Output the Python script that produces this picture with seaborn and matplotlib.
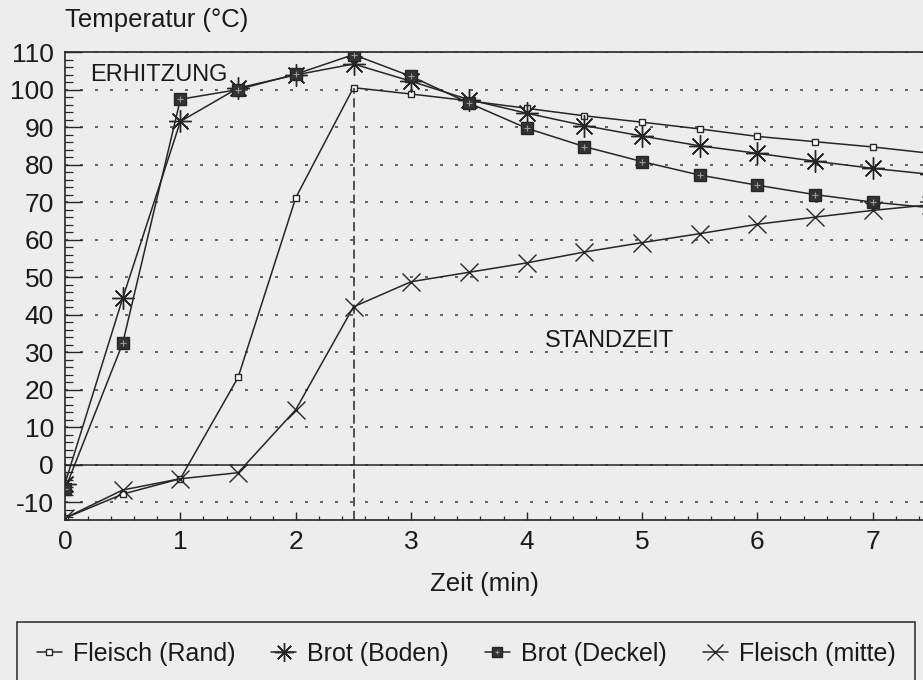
import matplotlib
matplotlib.use("Agg")
import matplotlib.pyplot as plt
from matplotlib.ticker import MultipleLocator
from matplotlib.legend_handler import HandlerTuple
import seaborn as sns
import pandas as pd

# ---- data ----
zeit = [0, 0.5, 1, 1.5, 2, 2.5, 3, 3.5, 4, 4.5, 5, 5.5, 6, 6.5, 7, 7.5]
fleisch_rand = [-14.2, -7.8, -3.7, 23.3, 71.2, 100.5, 98.8, 97.0, 95.0, 93.0,
                91.3, 89.5, 87.5, 86.1, 84.7, 83.0]
brot_boden = [-5.0, 44.4, 91.5, 100.4, 103.9, 106.8, 102.2, 97.3, 93.7, 90.4,
              87.6, 85.0, 83.0, 80.9, 79.0, 77.4]
brot_deckel = [-6.5, 32.4, 97.4, 100.0, 104.1, 109.3, 103.5, 96.4, 89.7, 84.8,
               80.8, 77.2, 74.5, 72.0, 70.0, 68.5]
fleisch_mitte = [-14.2, -6.7, -3.7, -2.1, 14.7, 42.1, 48.8, 51.3, 53.8, 56.7,
                 59.2, 61.6, 64.1, 66.0, 67.8, 69.3]
series_names = ["Fleisch (Rand)", "Brot (Boden)", "Brot (Deckel)", "Fleisch (mitte)"]
y_ticks = list(range(-10, 111, 10))
x_ticks = list(range(0, 8))
split_time = 2.5
phase_labels = ["ERHITZUNG", "STANDZEIT"]

df = pd.DataFrame({
    "Zeit": zeit * 4,
    "Temperatur": fleisch_rand + brot_boden + brot_deckel + fleisch_mitte,
    "Serie": sum([[n] * len(zeit) for n in series_names], []),
})

# ---- style ----
sns.set_theme(style="white")
plt.rcParams["font.family"] = ["Liberation Sans", "DejaVu Sans"]
plt.rcParams["axes.unicode_minus"] = False
BG = "#ededed"
INK = "#262626"

fig = plt.figure(figsize=(9.23, 6.80), dpi=100, facecolor=BG)
ax = fig.add_axes([65 / 923, 160 / 680, 858 / 923, 468 / 680], facecolor=BG)

lw = 1.1
styles = {
    "Fleisch (Rand)": dict(marker="s", markersize=4.5, markerfacecolor="white",
                           markeredgecolor=INK, markeredgewidth=1.0),
    "Brot (Boden)": dict(marker=(8, 2, 0), markersize=16, markerfacecolor=INK,
                         markeredgecolor=INK, markeredgewidth=1.0),
    "Brot (Deckel)": dict(marker="s", markersize=8.5, markerfacecolor="#333333",
                          markeredgecolor=INK, markeredgewidth=1.0),
    "Fleisch (mitte)": dict(marker="x", markersize=13, markerfacecolor=INK,
                            markeredgecolor=INK, markeredgewidth=1.0),
}

handles = {}
for name in series_names:
    sub = df[df["Serie"] == name]
    sns.lineplot(data=sub, x="Zeit", y="Temperatur", ax=ax, color=INK,
                 linewidth=lw, label=name, legend=False, **styles[name])
    handles[name] = ax.lines[-1]

# small light cross inside the dark Deckel squares
sub = df[df["Serie"] == "Brot (Deckel)"]
sns.lineplot(data=sub, x="Zeit", y="Temperatur", ax=ax, color="#9a9a9a",
             linestyle="none", marker="+", markersize=4, markeredgewidth=0.8,
             markeredgecolor="#9a9a9a", legend=False)
deckel_cross = ax.lines[-1]

# ---- axes ----
ax.set_xlim(0, 858 / 115.4)
ax.set_ylim(-14.7, 110)
ax.set_xticks(x_ticks)
ax.set_yticks(y_ticks)
ax.xaxis.set_minor_locator(MultipleLocator(0.2))
ax.yaxis.set_minor_locator(MultipleLocator(2))
ax.tick_params(axis="y", which="major", direction="in", length=12, width=1.0,
               color=INK, labelsize=19, pad=8, labelcolor="#1a1a1a", left=True)
ax.tick_params(axis="y", which="minor", direction="in", length=6, width=0.9,
               color=INK, left=True)
ax.tick_params(axis="x", which="major", direction="in", length=6, width=1.0,
               color=INK, labelsize=19, pad=7, labelcolor="#1a1a1a", bottom=True)
ax.tick_params(axis="x", which="minor", direction="in", length=3, width=0.9,
               color=INK, bottom=True)
ax.set_xlabel("")
ax.set_ylabel("")

for s in ["left", "bottom", "top"]:
    ax.spines[s].set_visible(True)
    ax.spines[s].set_color(INK)
    ax.spines[s].set_linewidth(1.2)
ax.spines["right"].set_visible(False)

ax.yaxis.grid(True, which="major", color="#4a4a4a", linewidth=1.2,
              linestyle=(0, (1.8, 7.2)))
ax.xaxis.grid(False)
ax.set_axisbelow(True)
ax.axhline(0, color=INK, linewidth=1.1)

ax.vlines(split_time, -14.7, fleisch_rand[zeit.index(split_time)], colors=INK,
          linewidth=1.1, linestyles=(0, (6, 3)))

ax.text(0.22, 103.8, phase_labels[0], fontsize=17, color="#1a1a1a",
        ha="left", va="center")
ax.text(4.16, 32.9, phase_labels[1], fontsize=17, color="#1a1a1a",
        ha="left", va="center")

fig.text(65 / 923, 1 - 20 / 680, "Temperatur (°C)", fontsize=18.5,
         color="#1a1a1a", ha="left", va="center")
fig.text(484 / 923, 1 - 584 / 680, "Zeit (min)", fontsize=18.5,
         color="#1a1a1a", ha="center", va="center")

leg_handles = [handles["Fleisch (Rand)"], handles["Brot (Boden)"],
               (handles["Brot (Deckel)"], deckel_cross), handles["Fleisch (mitte)"]]
leg = fig.legend(leg_handles, series_names, loc="upper left",
                 bbox_to_anchor=(17 / 923, 0, 898 / 923, 1 - 622 / 680),
                 mode="expand", ncol=4, fontsize=18, frameon=True, fancybox=False,
                 edgecolor=INK, facecolor=BG, framealpha=1, borderpad=0.78,
                 borderaxespad=0, handlelength=1.0, handletextpad=0.45,
                 columnspacing=0.8, markerscale=0.85,
                 handler_map={tuple: HandlerTuple(ndivide=1)})
leg.get_frame().set_linewidth(1.1)
for t in leg.get_texts():
    t.set_color("#1a1a1a")

fig.savefig("out.png", dpi=100, facecolor=BG)
